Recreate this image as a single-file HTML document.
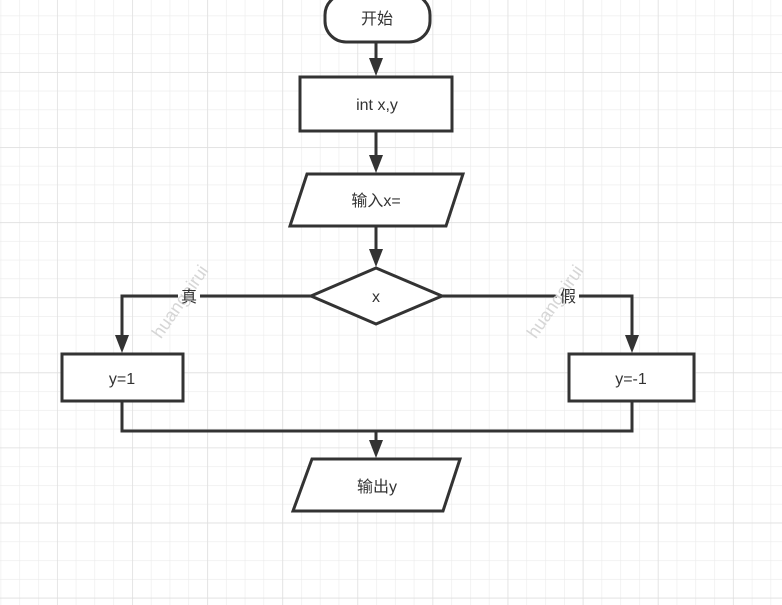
<!DOCTYPE html>
<html><head><meta charset="utf-8"><style>
html,body{margin:0;padding:0;background:#fff;}
svg{display:block;}
text{font-family:"Liberation Sans","Noto Sans CJK SC",sans-serif;fill:#333;font-size:16px;}
</style></head><body>
<svg width="782" height="605" viewBox="0 0 782 605" xmlns="http://www.w3.org/2000/svg">
<defs>
<pattern id="minor" x="0.6" y="-3.2" width="18.78" height="18.78" patternUnits="userSpaceOnUse">
<path d="M0 0V18.78M0 0H18.78" stroke="#ebebeb" stroke-width="1.2" fill="none"/>
</pattern>
<pattern id="major" x="57" y="72" width="75.1" height="75.1" patternUnits="userSpaceOnUse">
<path d="M0 0V75.1M0 0H75.1" stroke="#dedede" stroke-width="1.4" fill="none"/>
</pattern>
</defs>
<rect width="782" height="605" fill="#fff"/>
<rect width="782" height="605" fill="url(#minor)"/>
<rect width="782" height="605" fill="url(#major)"/>
<g stroke="#333" stroke-width="3" fill="none">
<path d="M376 42V62"/>
<path d="M376 131V158"/>
<path d="M376 226V252"/>
<path d="M311 296H122V338"/>
<path d="M442 296H632V338"/>
<path d="M122 401V431H632V401"/>
<path d="M376 431V443"/>
</g>
<g fill="#333">
<path d="M369 58L383 58L376 76Z"/>
<path d="M369 155L383 155L376 173Z"/>
<path d="M369 249L383 249L376 267Z"/>
<path d="M115 335L129 335L122 353Z"/>
<path d="M625 335L639 335L632 353Z"/>
<path d="M369 440L383 440L376 458Z"/>
</g>
<g stroke="#333" stroke-width="3" fill="#fff" stroke-linejoin="miter">
<rect x="325" y="-6" width="105" height="48" rx="21"/>
<rect x="300" y="77" width="152" height="54"/>
<path d="M307 174H463L446 226H290Z"/>
<path d="M376 268L442 296L376 324L311 296Z"/>
<rect x="62" y="354" width="121" height="47"/>
<rect x="569" y="354" width="125" height="47"/>
<path d="M312 459H460L443 511H293Z"/>
</g>
<rect x="178" y="286" width="22" height="20" fill="#fff"/>
<rect x="557" y="286" width="22" height="20" fill="#fff"/>
<text x="185" y="305" transform="rotate(-55 185 305)" text-anchor="middle" style="fill:#d6d6d6;font-size:18px">huangairui</text>
<text x="560" y="305" transform="rotate(-55 560 305)" text-anchor="middle" style="fill:#d6d6d6;font-size:18px">huangairui</text>
<g text-anchor="middle">
<text x="377" y="24">开始</text>
<text x="377" y="110">int x,y</text>
<text x="376" y="206">输入x=</text>
<text x="376" y="302">x</text>
<text x="189" y="302">真</text>
<text x="568" y="302">假</text>
<text x="122" y="384">y=1</text>
<text x="631" y="384">y=-1</text>
<text x="377" y="492">输出y</text>
</g>
</svg>
</body></html>
